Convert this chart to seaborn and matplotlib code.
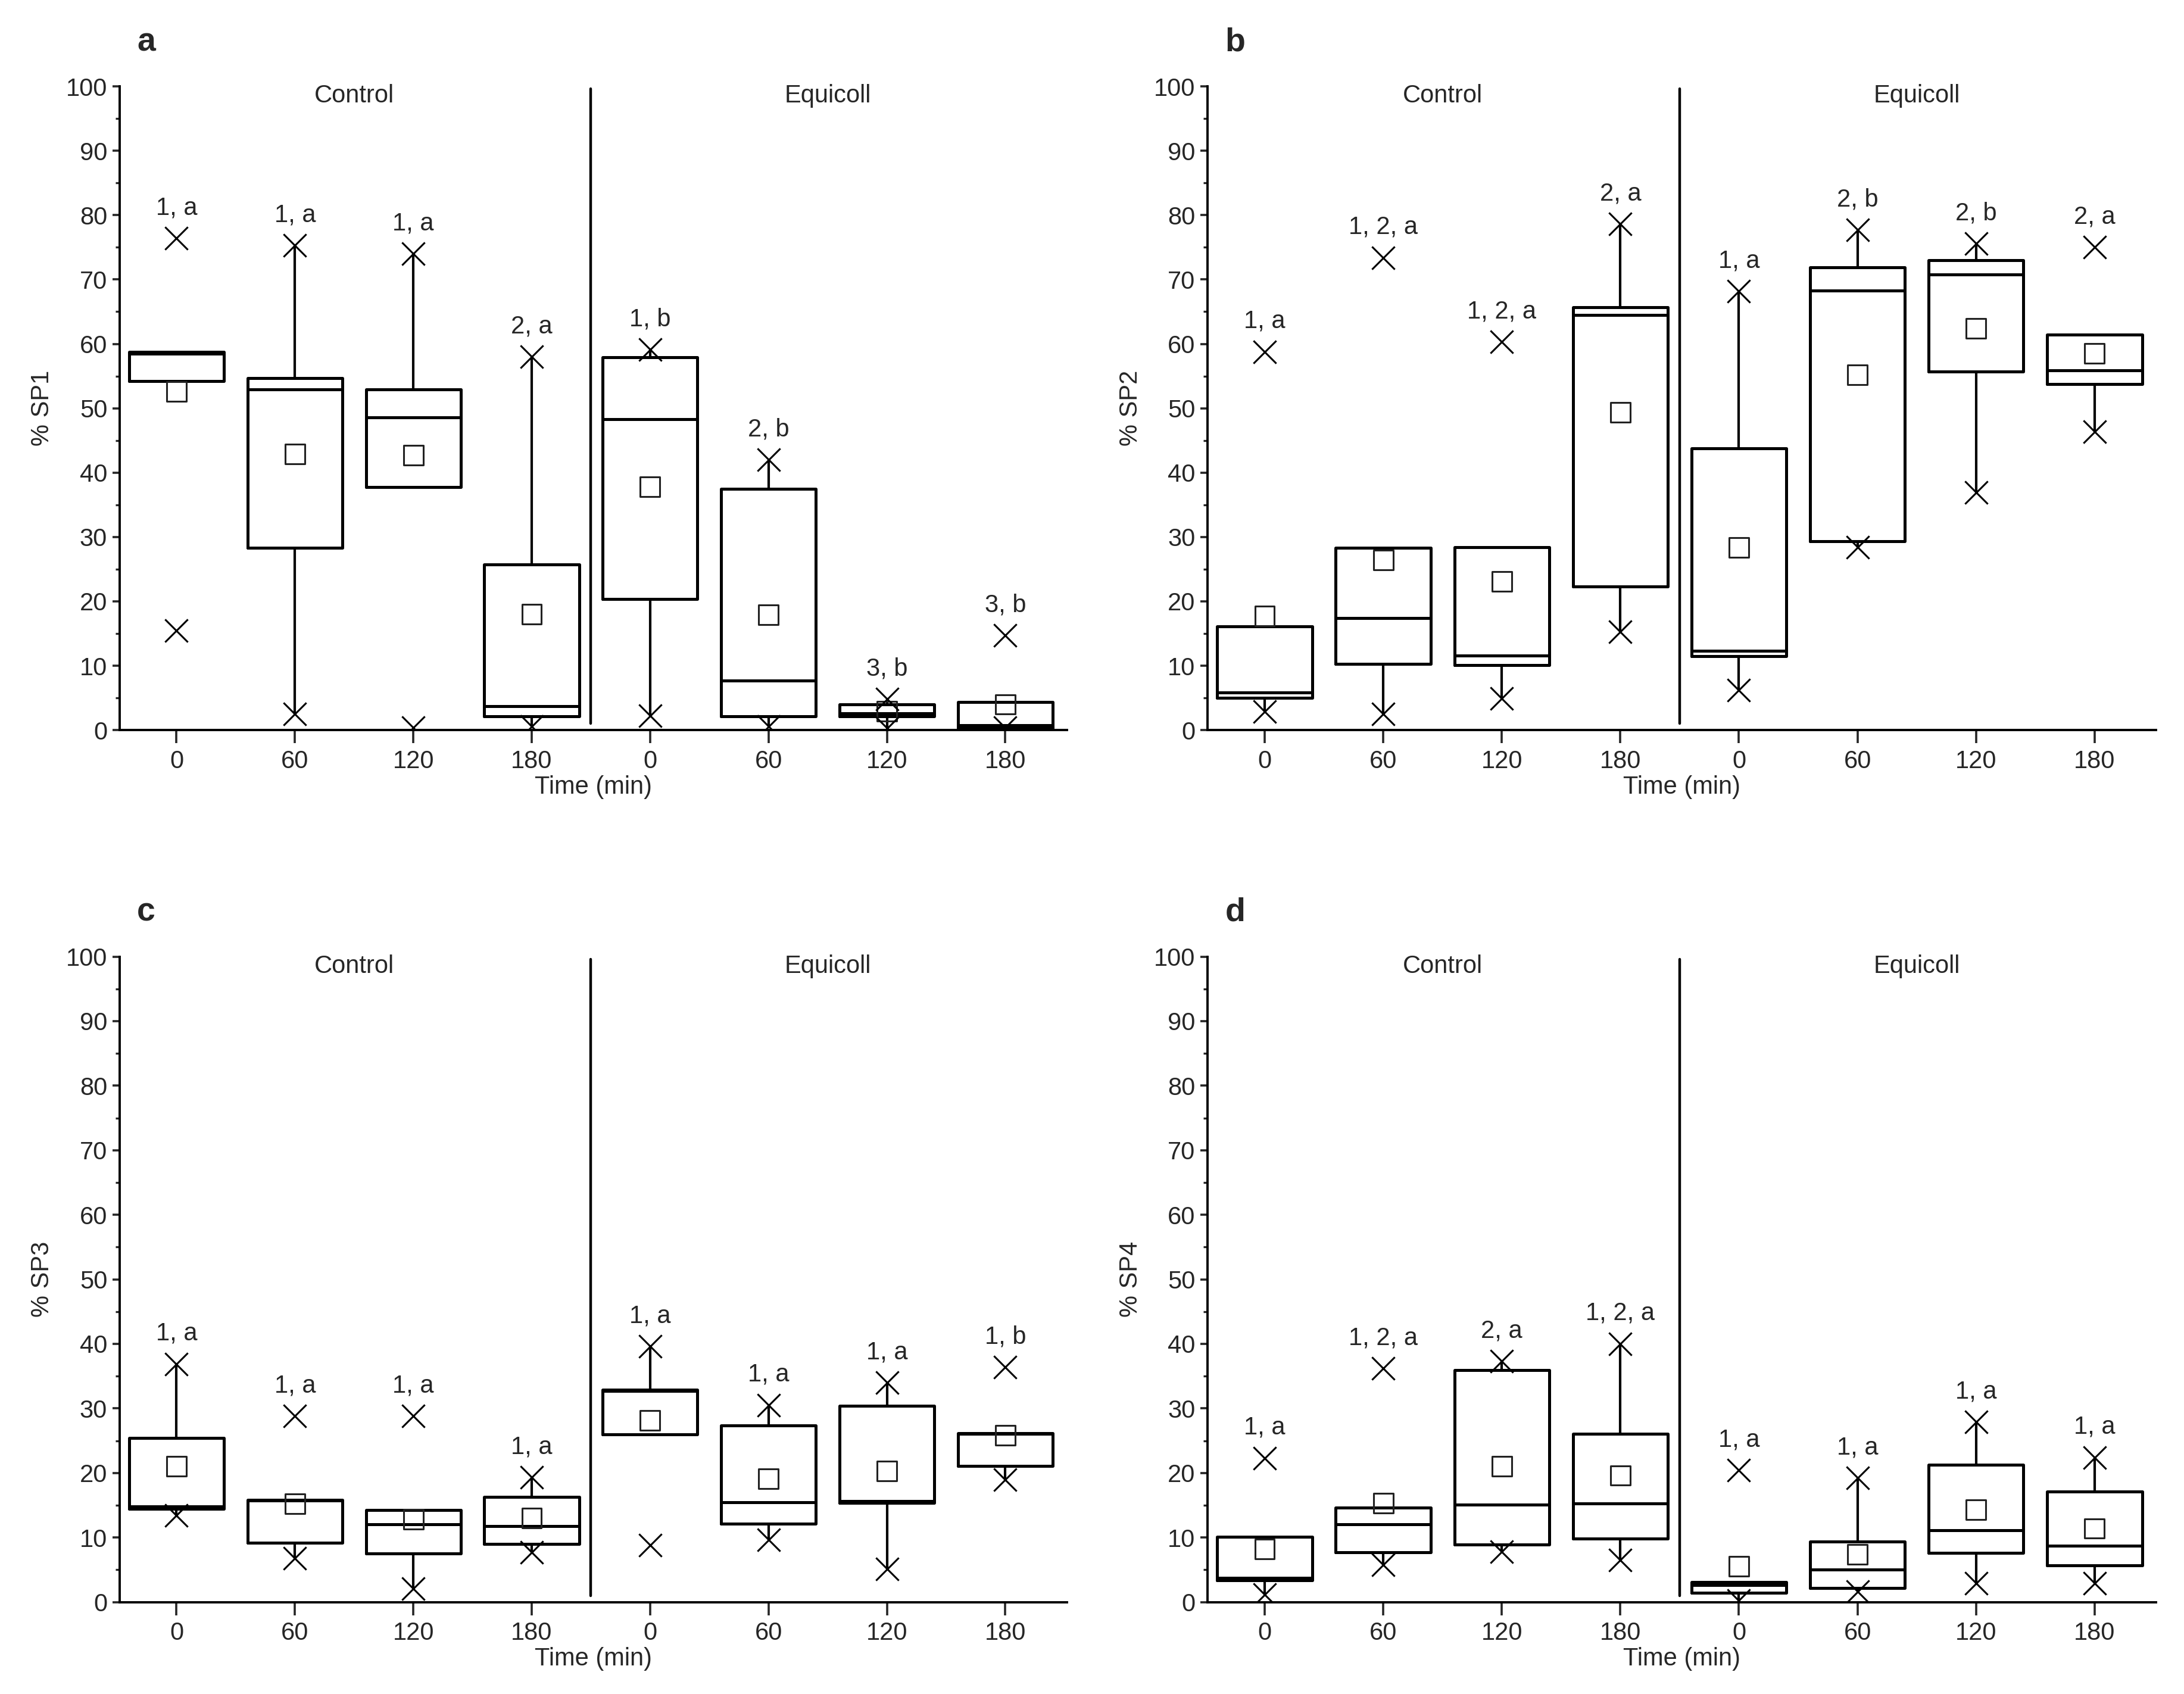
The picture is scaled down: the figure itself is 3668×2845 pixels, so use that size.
import numpy as np
import pandas as pd
import seaborn as sns
from matplotlib import pyplot as plt
from matplotlib.ticker import MultipleLocator

# time points (two groups of four)
times = ["0", "60", "120", "180", "0", "60", "120", "180"]
groups = ["Control", "Equicoll"]
panel_letters = ["a", "b", "c", "d"]
y_names = ["% SP1", "% SP2", "% SP3", "% SP4"]

# SP1
sp1_q1 = [54.2, 28.3, 37.8, 2.1, 20.4, 2.1, 2.1, 0.3]
sp1_med = [58.5, 52.9, 48.6, 3.7, 48.3, 7.7, 2.6, 0.8]
sp1_q3 = [58.8, 54.7, 52.9, 25.7, 57.9, 37.5, 4.0, 4.4]
sp1_mean = [52.6, 42.9, 42.7, 18.0, 37.8, 17.9, 2.9, 4.0]
sp1_wlo = [54.2, 2.5, 37.8, 0.6, 2.2, 0.6, 0.3, 0.3]
sp1_whi = [58.8, 75.3, 74.0, 58.0, 59.1, 42.0, 4.8, 4.4]
sp1_min = [15.5, 2.5, 0.4, 0.6, 2.2, 0.6, 0.3, 0.4]
sp1_max = [76.4, 75.3, 74.0, 58.0, 59.1, 42.0, 4.8, 14.7]
sp1_lab = ["1, a", "1, a", "1, a", "2, a", "1, b", "2, b", "3, b", "3, b"]

# SP2
sp2_q1 = [5.0, 10.3, 10.1, 22.3, 11.5, 29.3, 55.7, 53.8]
sp2_med = [5.8, 17.4, 11.6, 64.5, 12.3, 68.3, 70.8, 55.9]
sp2_q3 = [16.1, 28.3, 28.4, 65.7, 43.8, 71.9, 73.0, 61.4]
sp2_mean = [17.7, 26.4, 23.1, 49.4, 28.4, 55.2, 62.4, 58.5]
sp2_wlo = [2.9, 2.5, 4.9, 15.3, 6.2, 28.4, 36.9, 46.4]
sp2_whi = [16.1, 28.3, 28.4, 78.6, 68.2, 77.7, 75.6, 61.4]
sp2_min = [2.9, 2.5, 4.9, 15.3, 6.2, 28.4, 36.9, 46.4]
sp2_max = [58.8, 73.4, 60.3, 78.6, 68.2, 77.7, 75.6, 75.0]
sp2_lab = ["1, a", "1, 2, a", "1, 2, a", "2, a", "1, a", "2, b", "2, b", "2, a"]

# SP3
sp3_q1 = [14.4, 9.2, 7.5, 9.0, 26.0, 12.1, 15.4, 21.1]
sp3_med = [14.8, 15.7, 12.0, 11.8, 32.7, 15.5, 15.6, 26.1]
sp3_q3 = [25.4, 15.8, 14.3, 16.3, 32.9, 27.4, 30.4, 26.2]
sp3_mean = [21.0, 15.2, 12.8, 13.0, 28.1, 19.1, 20.3, 25.8]
sp3_wlo = [13.4, 6.8, 2.1, 7.7, 26.0, 9.6, 5.1, 19.0]
sp3_whi = [36.9, 15.8, 14.3, 19.3, 39.6, 30.5, 34.0, 26.2]
sp3_min = [13.4, 6.8, 2.1, 7.7, 8.8, 9.6, 5.1, 19.0]
sp3_max = [36.9, 28.8, 28.8, 19.3, 39.6, 30.5, 34.0, 36.4]
sp3_lab = ["1, a", "1, a", "1, a", "1, a", "1, a", "1, a", "1, a", "1, b"]

# SP4
sp4_q1 = [3.4, 7.7, 8.9, 9.8, 1.4, 2.2, 7.6, 5.7]
sp4_med = [3.7, 12.0, 15.1, 15.3, 2.6, 5.0, 11.1, 8.7]
sp4_q3 = [10.1, 14.6, 35.9, 26.1, 3.1, 9.4, 21.3, 17.1]
sp4_mean = [8.2, 15.3, 21.0, 19.6, 5.5, 7.4, 14.3, 11.4]
sp4_wlo = [1.2, 5.8, 7.8, 6.5, 0.2, 1.6, 2.9, 2.9]
sp4_whi = [10.1, 14.6, 37.3, 40.0, 3.1, 19.2, 27.9, 22.4]
sp4_min = [1.2, 5.8, 7.8, 6.5, 0.2, 1.6, 2.9, 2.9]
sp4_max = [22.3, 36.2, 37.3, 40.0, 20.4, 19.2, 27.9, 22.4]
sp4_lab = ["1, a", "1, 2, a", "2, a", "1, 2, a", "1, a", "1, a", "1, a", "1, a"]

panels = [
    (sp1_q1, sp1_med, sp1_q3, sp1_mean, sp1_wlo, sp1_whi, sp1_min, sp1_max, sp1_lab),
    (sp2_q1, sp2_med, sp2_q3, sp2_mean, sp2_wlo, sp2_whi, sp2_min, sp2_max, sp2_lab),
    (sp3_q1, sp3_med, sp3_q3, sp3_mean, sp3_wlo, sp3_whi, sp3_min, sp3_max, sp3_lab),
    (sp4_q1, sp4_med, sp4_q3, sp4_mean, sp4_wlo, sp4_whi, sp4_min, sp4_max, sp4_lab),
]

sns.set_theme(style="ticks")
plt.rcParams['font.family'] = ['Liberation Sans Narrow', 'Liberation Sans', 'DejaVu Sans']

fig = plt.figure(figsize=(18.34, 14.225), dpi=200)

# axes boxes [left, bottom, width, height] in figure fractions
rects = [
    [0.0548, 0.569, 0.4337, 0.380],
    [0.5530, 0.569, 0.4343, 0.380],
    [0.0548, 0.0543, 0.4337, 0.381],
    [0.5530, 0.0543, 0.4343, 0.381],
]

fs = 15
lw = 1.8

for k, (q1, med, q3, mean, wlo, whi, vmin, vmax, lab) in enumerate(panels):
    ax = fig.add_axes(rects[k])
    pos = np.arange(len(times))

    stats = []
    for i in range(len(times)):
        stats.append(dict(med=med[i], q1=q1[i], q3=q3[i],
                          whislo=wlo[i], whishi=whi[i], fliers=[]))
    ax.bxp(stats, positions=pos, widths=0.8, showcaps=False, showfliers=False,
           boxprops=dict(color='black', linewidth=lw),
           medianprops=dict(color='black', linewidth=lw),
           whiskerprops=dict(color='black', linewidth=1.5))

    df_mean = pd.DataFrame({'pos': pos, 'mean': mean})
    sns.scatterplot(data=df_mean, x='pos', y='mean', ax=ax, marker='s', s=140,
                    facecolor='none', edgecolor='#222222', linewidth=1.1, zorder=5)

    df_ext = pd.DataFrame({'pos': np.concatenate([pos, pos]),
                           'val': np.concatenate([vmin, vmax])})
    sns.scatterplot(data=df_ext, x='pos', y='val', ax=ax, marker='x', s=190,
                    color='black', linewidth=1.1, zorder=6)

    # significance letters above the max marker
    for i in range(len(times)):
        ax.text(pos[i], vmax[i] + 4.7, lab[i], ha='center', va='center', fontsize=fs)

    # group divider and names
    ax.plot([3.5, 3.5], [1.0, 99.6], color='black', linewidth=1.6)
    ax.text(1.5, 98.5, groups[0], ha='center', va='center', fontsize=fs)
    ax.text(5.5, 98.5, groups[1], ha='center', va='center', fontsize=fs)

    ax.set_xlim(-0.48, 7.52)
    ax.set_ylim(0, 100)
    ax.set_xticks(pos)
    ax.set_xticklabels(times)
    ax.yaxis.set_major_locator(MultipleLocator(10))
    ax.yaxis.set_minor_locator(MultipleLocator(5))
    ax.tick_params(axis='both', which='major', labelsize=fs, width=1.3, pad=3)
    ax.tick_params(axis='y', which='major', length=4.5)
    ax.tick_params(axis='x', which='major', length=7.8, pad=4)
    ax.tick_params(axis='y', which='minor', length=2.5, width=1.2)
    ax.set_xlabel('Time (min)', fontsize=fs, labelpad=1)
    ax.set_ylabel(y_names[k], fontsize=fs, labelpad=7)
    sns.despine(ax=ax)
    for s in ['left', 'bottom']:
        ax.spines[s].set_linewidth(1.4)
        ax.spines[s].set_color('black')

    bb = rects[k]
    fig.text(bb[0] + 0.008, bb[1] + bb[3] + 0.026, panel_letters[k],
             fontsize=20, fontweight='bold', ha='left', va='center',
             family=['Liberation Sans', 'DejaVu Sans'])

fig.savefig('out.png', dpi=200, facecolor='white')
